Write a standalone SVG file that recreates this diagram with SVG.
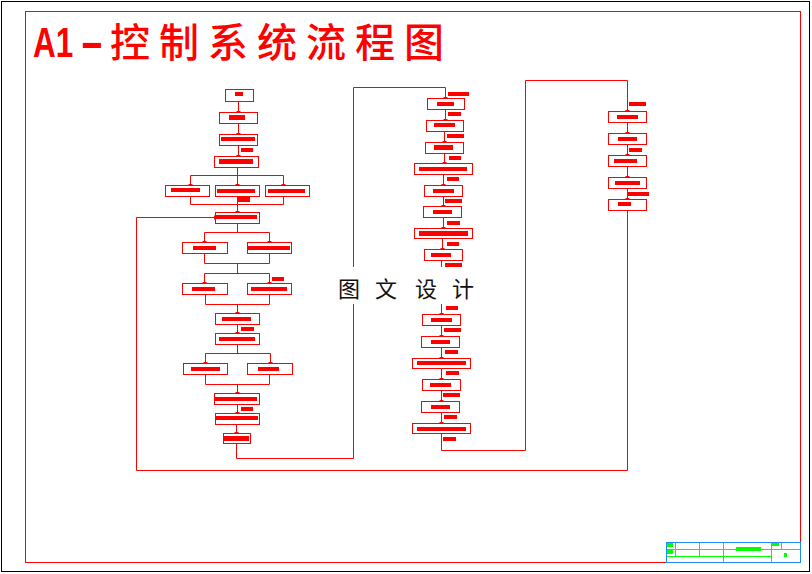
<svg xmlns="http://www.w3.org/2000/svg" width="812" height="574" viewBox="0 0 812 574">
<style>
.bx{fill:#fff;stroke:#f00;stroke-width:1}
.bar{fill:#f00}
.ln{fill:none;stroke:#f00;stroke-width:1}
.tb{fill:none;stroke:#00ff00;stroke-width:1}
.gf{fill:#00ff00}
.tl{font-family:"Liberation Sans",Arial,sans-serif;font-weight:bold;font-size:42px}
</style>
<defs>
<marker id="t" markerWidth="6" markerHeight="6" refX="4" refY="3" orient="auto" markerUnits="userSpaceOnUse"><path d="M3,1 V5" stroke="#f00" stroke-width="1"/></marker>
</defs>
<rect x="0" y="0" width="812" height="574" fill="#fff"/>
<rect x="1.5" y="1.5" width="808" height="570" fill="none" stroke="#000" stroke-width="1"/>
<rect x="25.5" y="11.5" width="775" height="551" fill="none" stroke="#f00" stroke-width="1"/>
<g id="title" fill="#f00">
<text class="tl" transform="translate(33,57) scale(0.75,1)" x="0" y="0">A1</text>
<text class="tl" transform="translate(80,57) scale(1.7,1)" x="0" y="0">-</text>
<text x="110 159 208 257 306 355 404" y="57" font-family="Noto Sans CJK SC, sans-serif" font-weight="500" font-size="40">控制系统流程图</text>
</g>
<g id="connectors">
<path class="ln" marker-end="url(#t)" d="M238.5 101.5V112.5"/>
<path class="ln" marker-end="url(#t)" d="M238.5 123.5V134.5"/>
<path class="ln" marker-end="url(#t)" d="M238.5 145.5V156.5"/>
<path class="ln" d="M237.5 167.5V175.5M190.5 175.5H283.5"/>
<path class="ln" marker-end="url(#t)" d="M190.5 175.5V185.5"/>
<path class="ln" marker-end="url(#t)" d="M237.5 175.5V185.5"/>
<path class="ln" marker-end="url(#t)" d="M283.5 175.5V185.5"/>
<path class="ln" d="M190.5 196.5V204.5H283.5V196.5M237.5 196.5V204.5"/>
<path class="ln" marker-end="url(#t)" d="M237.5 204.5V212.5"/>
<path class="ln" marker-end="url(#t)" d="M627.5 210.5V470.5H136.5V217.5H215.5"/>
<path class="ln" d="M237.5 223.5V232.5M204.5 232.5H269.5"/>
<path class="ln" marker-end="url(#t)" d="M204.5 232.5V242.5"/>
<path class="ln" marker-end="url(#t)" d="M269.5 232.5V242.5"/>
<path class="ln" d="M204.5 253.5V263.5H269.5V253.5M237.5 263.5V273.5M204.5 273.5H269.5"/>
<path class="ln" marker-end="url(#t)" d="M204.5 273.5V283.5"/>
<path class="ln" marker-end="url(#t)" d="M269.5 273.5V283.5"/>
<path class="ln" d="M205.5 294.5V304.5H269.5V294.5"/>
<path class="ln" marker-end="url(#t)" d="M237.5 304.5V313.5"/>
<path class="ln" marker-end="url(#t)" d="M237.5 324.5V333.5"/>
<path class="ln" d="M237.5 344.5V353.5M205.5 353.5H270.5"/>
<path class="ln" marker-end="url(#t)" d="M205.5 353.5V363.5"/>
<path class="ln" marker-end="url(#t)" d="M270.5 353.5V363.5"/>
<path class="ln" d="M205.5 374.5V384.5H269.5V374.5"/>
<path class="ln" marker-end="url(#t)" d="M237.5 384.5V393.5"/>
<path class="ln" marker-end="url(#t)" d="M237.5 404.5V413.5"/>
<path class="ln" marker-end="url(#t)" d="M236.5 424.5V433.5"/>
<path class="ln" marker-end="url(#t)" d="M236.5 443.5V458.5H353.5V87.5H445.5V98.5"/>
<path class="ln" marker-end="url(#t)" d="M445.5 109.5V120.5"/>
<path class="ln" marker-end="url(#t)" d="M444.5 131.5V142.5"/>
<path class="ln" marker-end="url(#t)" d="M444.5 153.5V163.5"/>
<path class="ln" marker-end="url(#t)" d="M443.5 174.5V185.5"/>
<path class="ln" marker-end="url(#t)" d="M443.5 196.5V206.5"/>
<path class="ln" marker-end="url(#t)" d="M443.5 217.5V228.5"/>
<path class="ln" marker-end="url(#t)" d="M442.5 238.5V249.5"/>
<path class="ln" marker-end="url(#t)" d="M441.5 260.5V314.5"/>
<path class="ln" marker-end="url(#t)" d="M441.5 325.5V336.5"/>
<path class="ln" marker-end="url(#t)" d="M441.5 347.5V358.5"/>
<path class="ln" marker-end="url(#t)" d="M441.5 368.5V379.5"/>
<path class="ln" marker-end="url(#t)" d="M441.5 390.5V401.5"/>
<path class="ln" marker-end="url(#t)" d="M441.5 412.5V423.5"/>
<path class="ln" marker-end="url(#t)" d="M441.5 433.5V450.5H525.5V80.5H627.5V111.5"/>
<path class="ln" marker-end="url(#t)" d="M627.5 122.5V133.5"/>
<path class="ln" marker-end="url(#t)" d="M627.5 144.5V155.5"/>
<path class="ln" marker-end="url(#t)" d="M627.5 166.5V177.5"/>
<path class="ln" marker-end="url(#t)" d="M627.5 188.5V199.5"/>
</g>
<g id="labels">
<rect class="bar" x="241" y="148" width="12" height="4"/>
<rect class="bar" x="237" y="197" width="13" height="5"/>
<rect class="bar" x="272" y="277" width="12" height="4"/>
<rect class="bar" x="241" y="327" width="13" height="4"/>
<rect class="bar" x="241" y="407" width="12" height="4"/>
<rect class="bar" x="448" y="92" width="21" height="4"/>
<rect class="bar" x="448" y="112" width="13" height="4"/>
<rect class="bar" x="447" y="134" width="17" height="4"/>
<rect class="bar" x="449" y="156" width="12" height="4"/>
<rect class="bar" x="447" y="177" width="12" height="4"/>
<rect class="bar" x="445" y="199" width="17" height="4"/>
<rect class="bar" x="447" y="221" width="13" height="4"/>
<rect class="bar" x="447" y="242" width="12" height="4"/>
<rect class="bar" x="445" y="263" width="17" height="4"/>
<rect class="bar" x="446" y="306" width="12" height="4"/>
<rect class="bar" x="444" y="328" width="17" height="4"/>
<rect class="bar" x="445" y="350" width="13" height="4"/>
<rect class="bar" x="446" y="371" width="13" height="4"/>
<rect class="bar" x="443" y="393" width="17" height="4"/>
<rect class="bar" x="444" y="415" width="13" height="4"/>
<rect class="bar" x="443" y="437" width="13" height="4"/>
<rect class="bar" x="629" y="102" width="17" height="4"/>
<rect class="bar" x="629" y="148" width="13" height="4"/>
<rect class="bar" x="628" y="192" width="21" height="4"/>
</g>
<g id="B1"><rect class="bx" x="225.5" y="89.5" width="28" height="12"/><rect class="bar" x="235" y="92" width="8" height="4"/></g>
<g id="B2"><rect class="bx" x="219.5" y="112.5" width="38" height="11"/><rect class="bar" x="229" y="115" width="16" height="5"/></g>
<g id="B3"><rect class="bx" x="219.5" y="134.5" width="38" height="11"/><rect class="bar" x="221" y="137" width="34" height="4"/></g>
<g id="B4"><rect class="bx" x="214.5" y="156.5" width="44" height="11"/><rect class="bar" x="219" y="159" width="34" height="5"/></g>
<g id="B5a"><rect class="bx" x="165.5" y="185.5" width="44" height="11"/><rect class="bar" x="171" y="188" width="29" height="4"/></g>
<g id="B5b"><rect class="bx" x="215.5" y="185.5" width="44" height="11"/><rect class="bar" x="217" y="189" width="38" height="4"/></g>
<g id="B5c"><rect class="bx" x="265.5" y="185.5" width="44" height="11"/><rect class="bar" x="268" y="189" width="37" height="4"/></g>
<g id="B6"><rect class="bx" x="215.5" y="212.5" width="44" height="11"/><rect class="bar" x="216" y="215" width="41" height="4"/></g>
<g id="B7a"><rect class="bx" x="182.5" y="242.5" width="45" height="11"/><rect class="bar" x="193" y="246" width="23" height="4"/></g>
<g id="B7b"><rect class="bx" x="247.5" y="242.5" width="44" height="11"/><rect class="bar" x="248" y="246" width="42" height="4"/></g>
<g id="B8a"><rect class="bx" x="182.5" y="283.5" width="45" height="11"/><rect class="bar" x="192" y="287" width="23" height="4"/></g>
<g id="B8b"><rect class="bx" x="247.5" y="283.5" width="44" height="11"/><rect class="bar" x="251" y="287" width="36" height="4"/></g>
<g id="B9"><rect class="bx" x="215.5" y="313.5" width="44" height="11"/><rect class="bar" x="222" y="317" width="29" height="4"/></g>
<g id="B10"><rect class="bx" x="215.5" y="333.5" width="44" height="11"/><rect class="bar" x="219" y="337" width="36" height="4"/></g>
<g id="B11a"><rect class="bx" x="183.5" y="363.5" width="44" height="11"/><rect class="bar" x="191" y="367" width="29" height="4"/></g>
<g id="B11b"><rect class="bx" x="247.5" y="363.5" width="45" height="11"/><rect class="bar" x="258" y="367" width="21" height="4"/></g>
<g id="B12"><rect class="bx" x="214.5" y="393.5" width="45" height="11"/><rect class="bar" x="215" y="397" width="42" height="4"/></g>
<g id="B13"><rect class="bx" x="215.5" y="413.5" width="44" height="11"/><rect class="bar" x="216" y="416" width="42" height="4"/></g>
<g id="B14"><rect class="bx" x="223.5" y="433.5" width="27" height="10"/><rect class="bar" x="224" y="436" width="25" height="5"/></g>
<g id="M1"><rect class="bx" x="427.5" y="98.5" width="37" height="11"/><rect class="bar" x="437" y="102" width="17" height="4"/></g>
<g id="M2"><rect class="bx" x="426.5" y="120.5" width="37" height="11"/><rect class="bar" x="434" y="123" width="21" height="4"/></g>
<g id="M3"><rect class="bx" x="425.5" y="142.5" width="38" height="11"/><rect class="bar" x="434" y="145" width="19" height="5"/></g>
<g id="M4"><rect class="bx" x="414.5" y="163.5" width="58" height="11"/><rect class="bar" x="419" y="167" width="48" height="4"/></g>
<g id="M5"><rect class="bx" x="424.5" y="185.5" width="38" height="11"/><rect class="bar" x="433" y="189" width="21" height="4"/></g>
<g id="M6"><rect class="bx" x="423.5" y="206.5" width="38" height="11"/><rect class="bar" x="433" y="210" width="19" height="4"/></g>
<g id="M7"><rect class="bx" x="414.5" y="228.5" width="58" height="10"/><rect class="bar" x="419" y="231" width="49" height="5"/></g>
<g id="M8"><rect class="bx" x="424.5" y="249.5" width="38" height="11"/><rect class="bar" x="431" y="253" width="20" height="4"/></g>
<g id="M9"><rect class="bx" x="422.5" y="314.5" width="38" height="11"/><rect class="bar" x="431" y="318" width="21" height="4"/></g>
<g id="M10"><rect class="bx" x="421.5" y="336.5" width="38" height="11"/><rect class="bar" x="431" y="340" width="19" height="4"/></g>
<g id="M11"><rect class="bx" x="412.5" y="358.5" width="58" height="10"/><rect class="bar" x="417" y="361" width="49" height="4"/></g>
<g id="M12"><rect class="bx" x="422.5" y="379.5" width="38" height="11"/><rect class="bar" x="430" y="383" width="21" height="4"/></g>
<g id="M13"><rect class="bx" x="421.5" y="401.5" width="38" height="11"/><rect class="bar" x="431" y="405" width="19" height="4"/></g>
<g id="M14"><rect class="bx" x="412.5" y="423.5" width="58" height="10"/><rect class="bar" x="417" y="427" width="49" height="4"/></g>
<g id="R1"><rect class="bx" x="608.5" y="111.5" width="38" height="11"/><rect class="bar" x="617" y="115" width="21" height="4"/></g>
<g id="R2"><rect class="bx" x="608.5" y="133.5" width="38" height="11"/><rect class="bar" x="618" y="137" width="19" height="4"/></g>
<g id="R3"><rect class="bx" x="608.5" y="155.5" width="38" height="11"/><rect class="bar" x="614" y="159" width="23" height="4"/></g>
<g id="R4"><rect class="bx" x="608.5" y="177.5" width="38" height="11"/><rect class="bar" x="615" y="181" width="25" height="4"/></g>
<g id="R5"><rect class="bx" x="608.5" y="199.5" width="38" height="11"/><rect class="bar" x="618" y="202" width="13" height="4"/></g>
<g id="watermark">
<rect x="335" y="267" width="149" height="37" fill="#fff"/>
<text x="338 375 415 452" y="297" font-family="Noto Sans CJK SC, sans-serif" font-size="22" fill="#111">图文设计</text>
</g>
<g id="titleblock">
<path class="tb" d="M666 549.5H800.5M666 556.5H771.5M675.5 542V556M699.5 542V556M723.5 542V562M771.5 542V562M781.5 542V549"/>
<rect class="gf" x="667" y="543" width="6" height="4"/>
<rect class="gf" x="667" y="550" width="6" height="4"/>
<rect class="gf" x="736" y="547" width="25" height="4"/>
<rect class="gf" x="772" y="543" width="7" height="3"/>
<rect class="gf" x="784" y="553" width="3" height="4"/>
<rect x="666.5" y="542.5" width="134" height="20" fill="none" stroke="#1e8cff" stroke-width="1"/>
</g>
</svg>
